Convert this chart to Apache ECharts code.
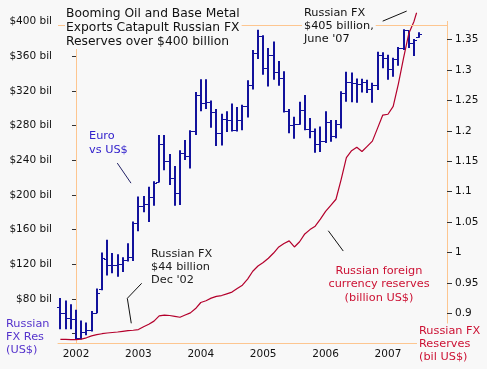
<!DOCTYPE html>
<html><head><meta charset="utf-8">
<script src="https://cdn.jsdelivr.net/npm/echarts@6/dist/echarts.min.js"></script>
<style>html,body{margin:0;padding:0;background:#f8f8f8;}#c{width:487px;height:369px;}</style>
</head><body><div id="c"></div>
<script>
// ---------- DATA ----------
// months since Jan 2002 (monthly EUR/USD bars, Oct 2001 .. Jul 2007)
const months = [-3,-2,-1,0,1,2,3,4,5,6,7,8,9,10,11,12,13,14,15,16,17,18,19,20,21,22,23,24,25,26,27,28,29,30,31,32,33,34,35,36,37,38,39,40,41,42,43,44,45,46,47,48,49,50,51,52,53,54,55,56,57,58,59,60,61,62,63,64,65,66];
const euroOpen  = [0.911,0.901,0.892,0.890,0.859,0.870,0.872,0.901,0.940,0.990,0.979,0.980,0.981,0.987,0.993,1.049,1.076,1.079,1.092,1.116,1.179,1.150,1.123,1.098,1.164,1.158,1.199,1.259,1.245,1.248,1.231,1.197,1.220,1.217,1.202,1.218,1.241,1.276,1.328,1.356,1.304,1.325,1.296,1.287,1.232,1.210,1.212,1.234,1.203,1.199,1.179,1.184,1.215,1.192,1.212,1.262,1.281,1.279,1.277,1.281,1.268,1.276,1.325,1.320,1.302,1.318,1.336,1.365,1.345,1.355];
const euroHigh  = [0.925,0.921,0.915,0.906,0.888,0.885,0.904,0.941,1.000,1.021,0.999,0.997,0.992,1.015,1.051,1.092,1.093,1.108,1.117,1.193,1.193,1.162,1.142,1.168,1.185,1.201,1.264,1.285,1.285,1.250,1.236,1.228,1.232,1.245,1.239,1.243,1.283,1.333,1.366,1.357,1.336,1.347,1.315,1.298,1.236,1.223,1.248,1.259,1.221,1.204,1.207,1.232,1.218,1.218,1.265,1.297,1.296,1.286,1.2855,1.284,1.279,1.330,1.329,1.325,1.320,1.338,1.367,1.365,1.351,1.362];
const euroLow   = [0.874,0.874,0.874,0.856,0.857,0.864,0.870,0.900,0.938,0.962,0.966,0.960,0.968,0.985,0.986,1.035,1.066,1.050,1.077,1.115,1.135,1.111,1.077,1.078,1.152,1.138,1.193,1.232,1.236,1.205,1.175,1.176,1.198,1.199,1.199,1.201,1.222,1.268,1.318,1.292,1.273,1.284,1.274,1.230,1.196,1.187,1.210,1.201,1.188,1.164,1.165,1.180,1.182,1.188,1.204,1.248,1.247,1.246,1.263,1.262,1.246,1.267,1.303,1.284,1.289,1.307,1.333,1.336,1.323,1.353];
const euroClose = [0.901,0.892,0.890,0.859,0.870,0.872,0.901,0.934,0.991,0.979,0.980,0.981,0.987,0.993,1.049,1.076,1.079,1.092,1.115,1.179,1.150,1.123,1.098,1.164,1.158,1.199,1.259,1.245,1.248,1.231,1.197,1.220,1.217,1.202,1.218,1.241,1.276,1.328,1.356,1.304,1.325,1.296,1.287,1.232,1.210,1.212,1.234,1.203,1.199,1.179,1.184,1.215,1.192,1.212,1.262,1.281,1.279,1.277,1.281,1.268,1.276,1.325,1.320,1.302,1.318,1.336,1.365,1.345,1.350,1.360];

// Russian FX reserves, billion US$
const reserveMonths = [-3,-2,-1,0,1,2,3,4,5,6,7,8,9,10,11,12,13,14,15,16,17,18,19,20,21,22,23,24,25,26,27,28,29,30,31,32,33,34,35,36,37,38,39,40,41,42,43,44,45,46,47,48,49,50,51,52,53,54,55,56,57,58,59,60,61,62,63,64,65,65.5];
const reserves = [33.5,33.5,33.3,33.3,33.8,35.3,37.5,39,40,40.8,41.4,42,42.8,43.5,44,44.8,48,51,54.5,60.5,61.5,61,60,59,61.5,64,69,76,78,81,83,84,86,88,92,96,103,112,118,122,127,133,140,144,147,140,146,155,160,164,172,181,188,195,218,243,251,255,250,256,262,277,292,293,302,328,358,386,400,410];

const yearTicks = [0,12,24,36,48,60];
const yearLabels = ['2002','2003','2004','2005','2006','2007'];
const leftTicks = [40,80,120,160,200,240,280,320,360,400];
const leftLabels = [80,120,160,200,240,280,320,360,400];
const rightTicks = [0.9,0.95,1,1.05,1.1,1.15,1.2,1.25,1.3,1.35];

// ---------- CHART ----------
const BG = '#f8f8f8', FRAME = '#fdc690', BAR = '#12129c', RED = '#b4002c';
const FONT = '"DejaVu Sans", Verdana, sans-serif';
const ohlc = months.map((m, i) => [m, euroOpen[i], euroHigh[i], euroLow[i], euroClose[i]]);
const resData = reserveMonths.map((m, i) => [m, reserves[i]]);

const chart = echarts.init(document.getElementById('c'));
chart.setOption({
  animation: false,
  backgroundColor: BG,
  grid: { left: 58, right: 40, top: 21.4, bottom: 26 },
  xAxis: {
    type: 'value', min: -3.46, max: 71.35,
    axisLine: { show: true, lineStyle: { color: FRAME, width: 1 } },
    axisTick: { show: false },
    splitLine: { show: false },
    axisLabel: { customValues: yearTicks, formatter: v => yearLabels[yearTicks.indexOf(v)],
      fontFamily: FONT, fontSize: 10.5, color: '#111', margin: 6 }
  },
  yAxis: [
    { type: 'value', position: 'left', min: 29.3, max: 400,
      axisLine: { show: true, lineStyle: { color: FRAME, width: 1 } },
      axisTick: { show: true, customValues: leftTicks, length: 4, lineStyle: { color: '#333' } },
      splitLine: { show: false },
      axisLabel: { customValues: leftLabels, formatter: v => '$' + v + ' bil',
        fontFamily: FONT, fontSize: 10.5, color: '#111', margin: 6 } },
    { type: 'value', position: 'right', min: 0.8512, max: 1.3799,
      axisLine: { show: true, lineStyle: { color: FRAME, width: 1 } },
      axisTick: { show: true, customValues: rightTicks, length: 5, lineStyle: { color: '#333' } },
      splitLine: { show: false },
      axisLabel: { customValues: rightTicks, formatter: v => String(+(+v).toFixed(2)),
        fontFamily: FONT, fontSize: 10.5, color: '#111', margin: 8 } }
  ],
  series: [
    { type: 'custom', xAxisIndex: 0, yAxisIndex: 1, data: ohlc,
      encode: { x: 0, y: [1, 2, 3, 4] },
      renderItem: (params, api) => {
        const x = api.value(0);
        const pH = api.coord([x, api.value(2)]), pL = api.coord([x, api.value(3)]);
        const pO = api.coord([x, api.value(1)]), pC = api.coord([x, api.value(4)]);
        const cx = Math.round(pH[0]);
        const yo = Math.round(pO[1]) + 0.5, yc = Math.round(pC[1]) + 0.5;
        return { type: 'group', children: [
          { type: 'line', shape: { x1: cx, y1: pH[1], x2: cx, y2: pL[1] }, style: { stroke: BAR, lineWidth: 2 } },
          { type: 'line', shape: { x1: cx - 3, y1: yo, x2: cx, y2: yo }, style: { stroke: BAR, lineWidth: 1 } },
          { type: 'line', shape: { x1: cx, y1: yc, x2: cx + 3, y2: yc }, style: { stroke: BAR, lineWidth: 1 } }
        ] };
      } },
    { type: 'line', xAxisIndex: 0, yAxisIndex: 0, data: resData, symbol: 'none', clip: false,
      lineStyle: { color: RED, width: 1.2 },
      markLine: { silent: true, symbol: 'none', label: { show: false },
        lineStyle: { color: FRAME, type: 'solid', width: 1 }, data: [{ yAxis: 395.85 }] } }
  ]
});

// ---------- ANNOTATIONS ----------
const R = (p) => chart.convertToPixel({ xAxisIndex: 0, yAxisIndex: 0 }, p);
const E = (p) => chart.convertToPixel({ xAxisIndex: 0, yAxisIndex: 1 }, p);
const poly = (pts, color) => ({ type: 'polyline', z: 50, shape: { points: pts }, style: { stroke: color, lineWidth: 1, fill: null } });
const txt = (x, y, text, o) => ({ type: 'text', x: x, y: y, z: 100, style: Object.assign({
  text: text, fill: '#111', font: '11.3px ' + FONT, lineHeight: 13, align: 'left', verticalAlign: 'top' }, o || {}) });

chart.setOption({ graphic: [
  txt(65, 7, 'Booming Oil and Base Metal\nExports Catapult Russian FX\nReserves over $400 billion',
      { font: '12.3px ' + FONT, lineHeight: 14, backgroundColor: BG, padding: [0, 2, 0, 1] }),
  txt(302, 6.5, "Russian FX\n$405 billion,\nJune '07", { backgroundColor: BG, padding: [0, 2, 0, 2] }),
  txt(89, 129, 'Euro\nvs US$', { fill: '#3322cc', lineHeight: 14 }),
  txt(151, 247.5, "Russian FX\n$44 billion\nDec '02", { fill: '#1a1a1a' }),
  txt(379, 264, 'Russian foreign\ncurrency reserves\n(billion US$)', { fill: '#cc1133', align: 'center', lineHeight: 13.7 }),
  txt(6, 317.5, 'Russian\nFX Res\n(US$)', { fill: '#5533cc', lineHeight: 13 }),
  txt(417, 323.5, 'Russian FX\nReserves\n(bil US$)', { fill: '#cc1133', lineHeight: 13.2, backgroundColor: BG, padding: [1, 4, 4, 2] }),
  poly([R([58.98, 400.3]), R([63.6, 411.9])], '#111'),
  poly([E([7.94, 1.147]), E([10.58, 1.114])], '#222266'),
  poly([R([12.63, 98.1]), R([9.87, 80.8]), R([10.63, 52.0])], '#111'),
  poly([R([48.52, 158.7]), R([51.4, 135.3])], '#111')
] });
</script></body></html>
